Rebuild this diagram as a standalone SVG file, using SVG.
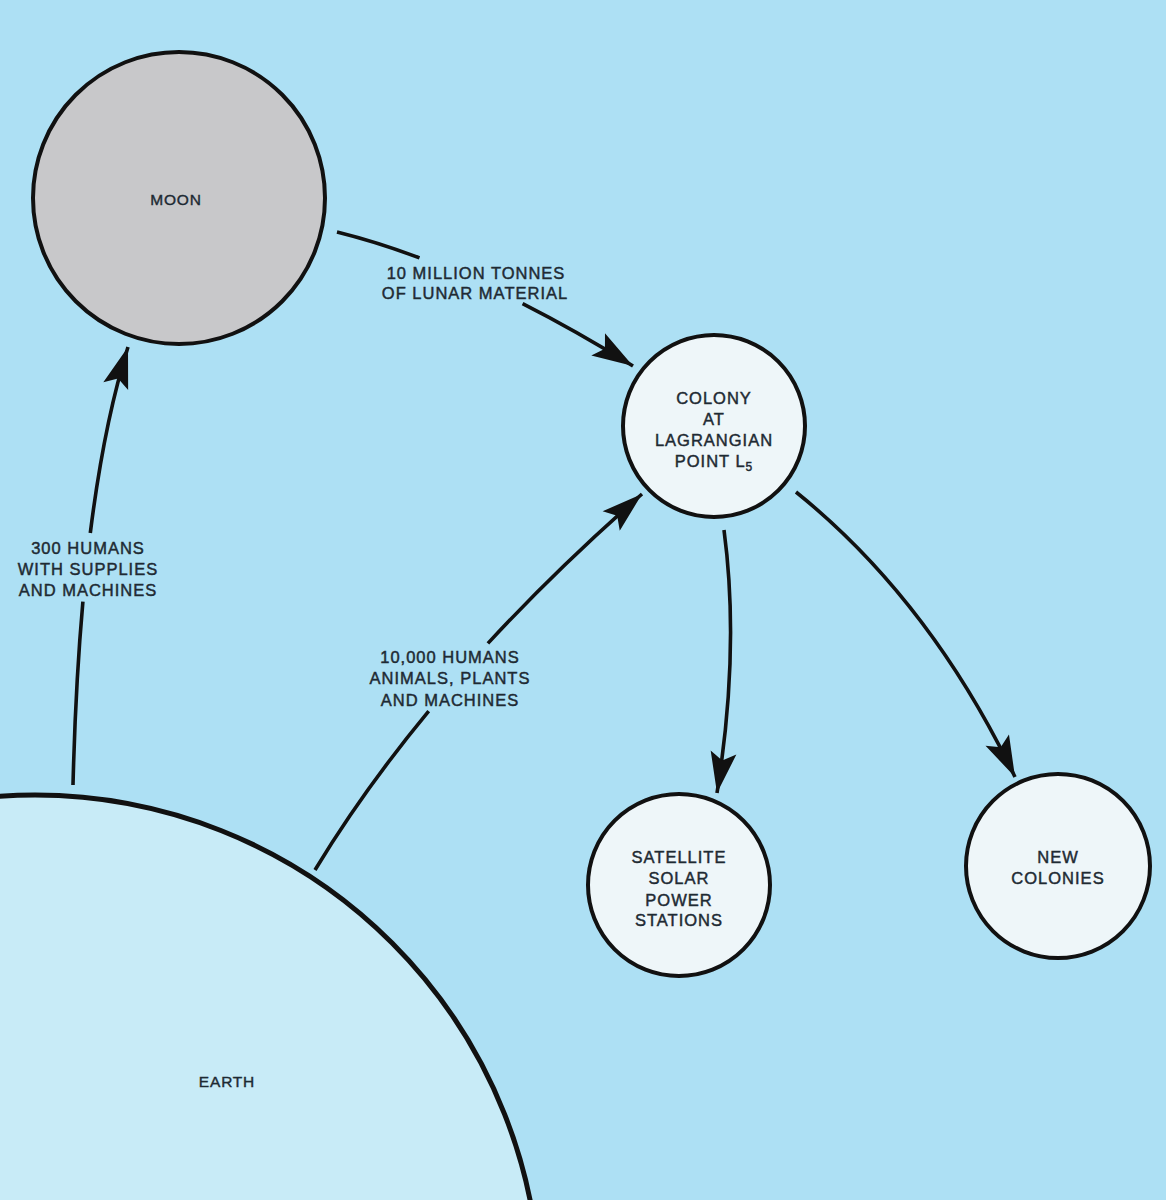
<svg xmlns="http://www.w3.org/2000/svg" width="1166" height="1200" viewBox="0 0 1166 1200">
<style>
.bg{fill:#ade0f4}
.node{stroke:#111;stroke-width:4}
.lbl{font-family:"Liberation Sans",Arial,sans-serif;font-size:16.5px;letter-spacing:1px;fill:#1e2a33;stroke:#1e2a33;stroke-width:0.45px;text-anchor:middle}
.small{font-family:"Liberation Sans",Arial,sans-serif;font-size:15.5px;letter-spacing:0.8px;fill:#1e2a33;stroke:#1e2a33;stroke-width:0.4px;text-anchor:middle}
.conn{fill:none;stroke:#111;stroke-width:3.6;stroke-linecap:butt}
</style>
<defs>
<marker id="ah" viewBox="-46 -16 48 32" refX="0" refY="0" markerWidth="48" markerHeight="32" markerUnits="userSpaceOnUse" orient="auto">
<path d="M0,0 L-41,-13 L-33,0 L-41,13 Z" fill="#111"/>
</marker>
</defs>
<rect class="bg" x="0" y="0" width="1166" height="1200"/>
<g id="earth">
<circle cx="35" cy="1300" r="505" fill="#c8ebf7" stroke="#111" stroke-width="5"/>
<text class="small" x="227" y="1087">EARTH</text>
</g>
<g id="moon">
<circle class="node" cx="179" cy="198" r="146" fill="#c8c8ca"/>
<text class="small" x="176" y="205">MOON</text>
</g>
<g id="colony">
<circle class="node" cx="714" cy="426" r="91" fill="#eef6f9"/>
<text class="lbl" x="714" y="404">COLONY</text>
<text class="lbl" x="714" y="425">AT</text>
<text class="lbl" x="714" y="446">LAGRANGIAN</text>
<text class="lbl" x="714" y="467">POINT L<tspan font-size="12" dy="4">5</tspan></text>
</g>
<g id="satellite">
<circle class="node" cx="679" cy="885" r="91" fill="#eef6f9"/>
<text class="lbl" x="679" y="863">SATELLITE</text>
<text class="lbl" x="679" y="884">SOLAR</text>
<text class="lbl" x="679" y="906">POWER</text>
<text class="lbl" x="679" y="926">STATIONS</text>
</g>
<g id="newcolonies">
<circle class="node" cx="1058" cy="866" r="92" fill="#eef6f9"/>
<text class="lbl" x="1058" y="863">NEW</text>
<text class="lbl" x="1058" y="884">COLONIES</text>
</g>
<g id="connectors">
<path class="conn" d="M73,785 Q75.5,685 82.9,601.7"/>
<path class="conn" d="M90.3,533 Q104,423.5 128,347" marker-end="url(#ah)"/>
<path class="conn" d="M337,232 Q376.9,241.9 419.5,257.9"/>
<path class="conn" d="M522.6,303.6 Q576,330.7 633,366" marker-end="url(#ah)"/>
<path class="conn" d="M315,870 Q363.3,790.2 428.7,711.1"/>
<path class="conn" d="M487.9,643.4 Q557.2,568.4 642,494" marker-end="url(#ah)"/>
<path class="conn" d="M724,530 Q740,650 717,793" marker-end="url(#ah)"/>
<path class="conn" d="M796,492 Q930,600 1015,777" marker-end="url(#ah)"/>
</g>
<g id="labels">
<text class="lbl" x="88" y="554">300 HUMANS</text>
<text class="lbl" x="88" y="575">WITH SUPPLIES</text>
<text class="lbl" x="88" y="596">AND MACHINES</text>
<text class="lbl" x="476" y="279">10 MILLION TONNES</text>
<text class="lbl" x="475" y="299">OF LUNAR MATERIAL</text>
<text class="lbl" x="450" y="663">10,000 HUMANS</text>
<text class="lbl" x="450" y="684">ANIMALS, PLANTS</text>
<text class="lbl" x="450" y="706">AND MACHINES</text>
</g>
</svg>
